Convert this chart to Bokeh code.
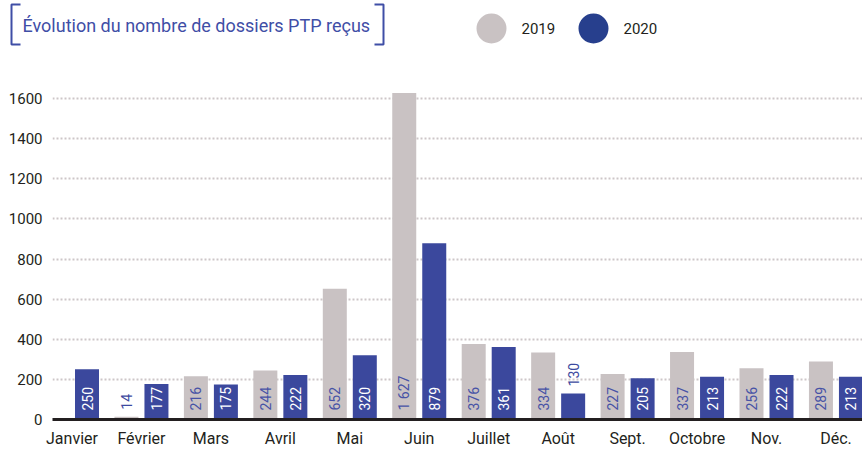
import math
import pandas as pd
from bokeh.plotting import figure
from bokeh.layouts import column, row
from bokeh.models import ColumnDataSource, FixedTicker, Range1d
from bokeh.transform import dodge
from bokeh.core.properties import value
from bokeh.embed import file_html
from bokeh.resources import INLINE

# ---------------- data ----------------
months = ["Janvier", "Février", "Mars", "Avril", "Mai", "Juin",
          "Juillet", "Août", "Sept.", "Octobre", "Nov.", "Déc."]
values_2019 = [None, 14, 216, 244, 652, 1627, 376, 334, 227, 337, 256, 289]
values_2020 = [250, 177, 175, 222, 320, 879, 361, 130, 205, 213, 222, 213]
label_2019 = ["", "14", "216", "244", "652", "1 627", "376", "334", "227", "337", "256", "289"]
label_2020 = ["250", "177", "175", "222", "320", "879", "361", "130", "205", "213", "222", "213"]
y_ticks = [0, 200, 400, 600, 800, 1000, 1200, 1400, 1600]
series_names = ["2019", "2020"]
title_text = "Évolution du nombre de dossiers PTP reçus"

# ---------------- style ----------------
FONT = "Roboto"
GREY = "#c9c2c3"
BLUE = "#3b489d"
BLUE_LEG = "#273f8d"
TITLE_BLUE = "#3f4ea6"
TXT = "#231f20"

W = 862
HEAD_H = 60
MAIN_H = 391
PX_CAT = 69.45           # pixels per month
FRAME_LEFT = 52
FRAME_H = 359
BOTTOM_BORDER = MAIN_H - FRAME_H
PX_UNIT = 321 / 1600.0   # pixels per dossier
X_START = -19.5 / PX_CAT
X_END = X_START + (W - FRAME_LEFT) / PX_CAT
Y_END = FRAME_H / PX_UNIT

# ---------------- header (title + legend) ----------------
h = figure(width=W, height=HEAD_H, output_backend="svg", toolbar_location=None,
           x_range=Range1d(0, W), y_range=Range1d(HEAD_H, 0),
           x_axis_type=None, y_axis_type=None,
           min_border=0, outline_line_color=None)
h.grid.visible = False

h.text(x=[22], y=[25], text=[title_text], text_font=value(FONT),
       text_font_size="18px", text_color=TITLE_BLUE,
       text_baseline="middle", text_align="left")
h.multi_line(xs=[[20, 11, 11, 20], [374, 383, 383, 374]],
             ys=[[4, 4, 44, 44], [4, 4, 44, 44]],
             line_color=TITLE_BLUE, line_width=2)

leg_x = [491, 593]
h.scatter(x=leg_x, y=[28, 28], size=30, fill_color=[GREY, BLUE_LEG], line_color=None)
h.text(x=[v + 30 for v in leg_x], y=[28, 28], text=series_names,
       text_font=value(FONT), text_font_size="15px", text_color=TXT,
       text_baseline="middle", text_align="left")

# ---------------- main chart ----------------
p = figure(width=W, height=MAIN_H, output_backend="svg", toolbar_location=None,
           x_range=Range1d(X_START, X_END), y_range=Range1d(0, Y_END),
           min_border_left=FRAME_LEFT, min_border_right=0, min_border_top=0,
           min_border_bottom=BOTTOM_BORDER)
p.outline_line_color = None

p.xaxis.ticker = FixedTicker(ticks=list(range(len(months))))
p.xaxis.major_label_overrides = {i: m for i, m in enumerate(months)}
p.xaxis.major_tick_line_color = None
p.xaxis.major_tick_out = 0
p.xaxis.major_tick_in = 0
p.xaxis.minor_tick_line_color = None
p.xaxis.axis_line_width = 3
p.xaxis.axis_line_color = TXT
p.xaxis.major_label_text_font = FONT
p.xaxis.major_label_text_font_size = "16px"
p.xaxis.major_label_text_color = TXT
p.xaxis.major_label_standoff = 9

p.yaxis.ticker = FixedTicker(ticks=y_ticks)
p.yaxis.axis_line_color = None
p.yaxis.major_tick_line_color = None
p.yaxis.major_tick_out = 0
p.yaxis.major_tick_in = 0
p.yaxis.minor_tick_line_color = None
p.yaxis.major_label_text_font = FONT
p.yaxis.major_label_text_font_size = "15px"
p.yaxis.major_label_text_color = TXT
p.yaxis.major_label_standoff = 10

p.xgrid.visible = False
p.ygrid.ticker = FixedTicker(ticks=y_ticks[1:])
p.ygrid.grid_line_color = "#cdc6c8"
p.ygrid.grid_line_width = 2
p.ygrid.grid_line_dash = "2 2"

BAR_W = 24 / PX_CAT
OFF = 15 / PX_CAT
THRESH = 150
for vals, labs, off, color, lab_col in [
        (values_2019, label_2019, -OFF, GREY, "#4753a6"),
        (values_2020, label_2020, OFF, BLUE, "white")]:
    df = pd.DataFrame(dict(x=list(range(len(months))), top=vals, lab=labs)).dropna()
    src = ColumnDataSource(df)
    p.vbar(x=dodge("x", off), top="top", width=BAR_W, source=src,
           fill_color=color, line_color=None)
    inside = df[df.top >= THRESH].assign(y=0)
    above = df[df.top < THRESH].assign(y=lambda d: d.top)
    p.text(x=dodge("x", off), y="y", text="lab", source=ColumnDataSource(inside),
           angle=math.pi / 2, text_align="left", text_baseline="middle",
           y_offset=-9, text_color=lab_col, text_font=value(FONT),
           text_font_size="14px")
    p.text(x=dodge("x", off), y="y", text="lab", source=ColumnDataSource(above),
           angle=math.pi / 2, text_align="left", text_baseline="middle",
           y_offset=-7, text_color="#3d4aa0", text_font=value(FONT),
           text_font_size="14px")

layout = column(row(h), p, spacing=0)
open("out.html", "w").write(file_html(layout, INLINE))
